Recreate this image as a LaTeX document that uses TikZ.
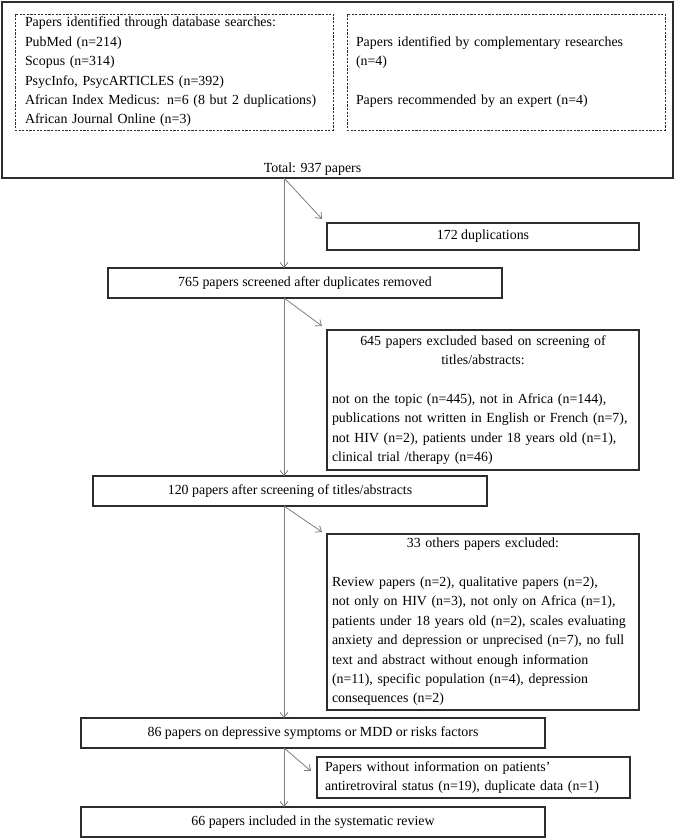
\documentclass[tikz,border=0pt]{standalone}
\usepackage{fontspec}
\setmainfont{Liberation Serif}
\usetikzlibrary{arrows.meta,positioning,calc}
\definecolor{boxline}{RGB}{45,45,45}
\definecolor{flowline}{RGB}{125,125,125}
\tikzset{
  box/.style={draw=boxline, line width=1.1pt, inner sep=0pt, outer sep=0pt, minimum height=30pt},
  listbox/.style={draw=boxline, line width=1.1pt, inner ysep=1pt, outer sep=0pt, align=left,
    execute at begin node=\setlength{\parindent}{0pt}},
  dashbox/.style={listbox, line width=0.8pt, dash pattern=on 2.2pt off 1.4pt},
  flow/.style={draw=flowline, line width=0.8pt, -{Straight Barb[length=5pt,width=8pt]}}
}
\begin{document}
\begin{tikzpicture}[font=\fontsize{13.9pt}{19.4pt}\selectfont]
    \useasboundingbox (0,0) rectangle (675pt,-840pt);
    \node (outer) [box, anchor=north west, minimum width=671pt, minimum height=176pt] at (2pt,-2pt) {};
    \node (dbsearch) [dashbox, text width=298pt, inner xsep=10pt, minimum height=116pt, below right=12pt and 13pt of outer.north west]
        {Papers identified through database searches:\\ PubMed (n=214)\\ Scopus (n=314)\\ PsycInfo, PsycARTICLES (n=392)\\
         African Index Medicus: n=6 (8 but 2 duplications)\\ African Journal Online (n=3)};
    \node (extra) [dashbox, text width=300pt, inner xsep=9pt, minimum height=116pt, right=14pt of dbsearch]
        {Papers identified by complementary researches\\ (n=4)\par\vspace{\baselineskip}Papers recommended by an expert (n=4)};
    \node (total) [above=6pt of outer.south, anchor=base, xshift=-25pt] {Total: 937 papers};
    \coordinate (spine) at ([xshift=282pt]outer.south west);

    \node (dup) [box, minimum width=312pt, minimum height=27pt, below right=45pt and 325pt of outer.south west] {172 duplications};
    \node (scr) [box, minimum width=394pt, below right=90pt and 106pt of outer.south west] {765 papers screened after duplicates removed};
    \node (excl1) [listbox, text width=302pt, inner xsep=5pt, minimum height=140pt, below right=32pt and 219pt of scr.south west]
        {{\centering 645 papers excluded based on screening of\\ titles/abstracts:\par}\vspace{\baselineskip}
         not on the topic (n=445), not in Africa (n=144),\\ publications not written in English or French (n=7),\\
         not HIV (n=2), patients under 18 years old (n=1),\\ clinical trial /therapy (n=46)};
    \node (tit) [box, minimum width=394pt, below right=178pt and -15pt of scr.south west] {120 papers after screening of titles/abstracts};
    \node (excl2) [listbox, text width=302pt, inner xsep=5pt, minimum height=176pt, below right=28pt and 234pt of tit.south west]
        {{\centering 33 others papers excluded:\par}\vspace{\baselineskip}
         Review papers (n=2), qualitative papers (n=2),\\ not only on HIV (n=3), not only on Africa (n=1),\\
         patients under 18 years old (n=2), scales evaluating\\ anxiety and depression or unprecised (n=7), no full\\
         text and abstract without enough information\\ (n=11), specific population (n=4), depression\\ consequences (n=2)};
    \node (dep) [box, minimum width=464pt, below right=212pt and -12pt of tit.south west] {86 papers on depressive symptoms or MDD or risks factors};
    \node (noinfo) [listbox, text width=297pt, inner xsep=8pt, minimum height=41pt, below right=9pt and 236pt of dep.south west]
        {Papers without information on patients'\\ antiretroviral status (n=19), duplicate data (n=1)};
    \node (incl) [box, minimum width=464pt, below right=59pt and 0pt of dep.south west] {66 papers included in the systematic review};

    \draw[flow] (outer.south -| spine) -- (scr.north -| spine);
    \draw[flow] (outer.south -| spine) -- ([xshift=-5pt,yshift=4pt]dup.north west);
    \draw[flow] (scr.south -| spine) -- (tit.north -| spine);
    \draw[flow] (scr.south -| spine) -- ([xshift=-5pt,yshift=4pt]excl1.north west);
    \draw[flow] (tit.south -| spine) -- (dep.north -| spine);
    \draw[flow] (tit.south -| spine) -- ([xshift=-5pt,yshift=2pt]excl2.north west);
    \draw[flow] (dep.south -| spine) -- (incl.north -| spine);
    \draw[flow] (dep.south -| spine) -- ([xshift=-6pt,yshift=-14pt]noinfo.north west);
\end{tikzpicture}
\end{document}
